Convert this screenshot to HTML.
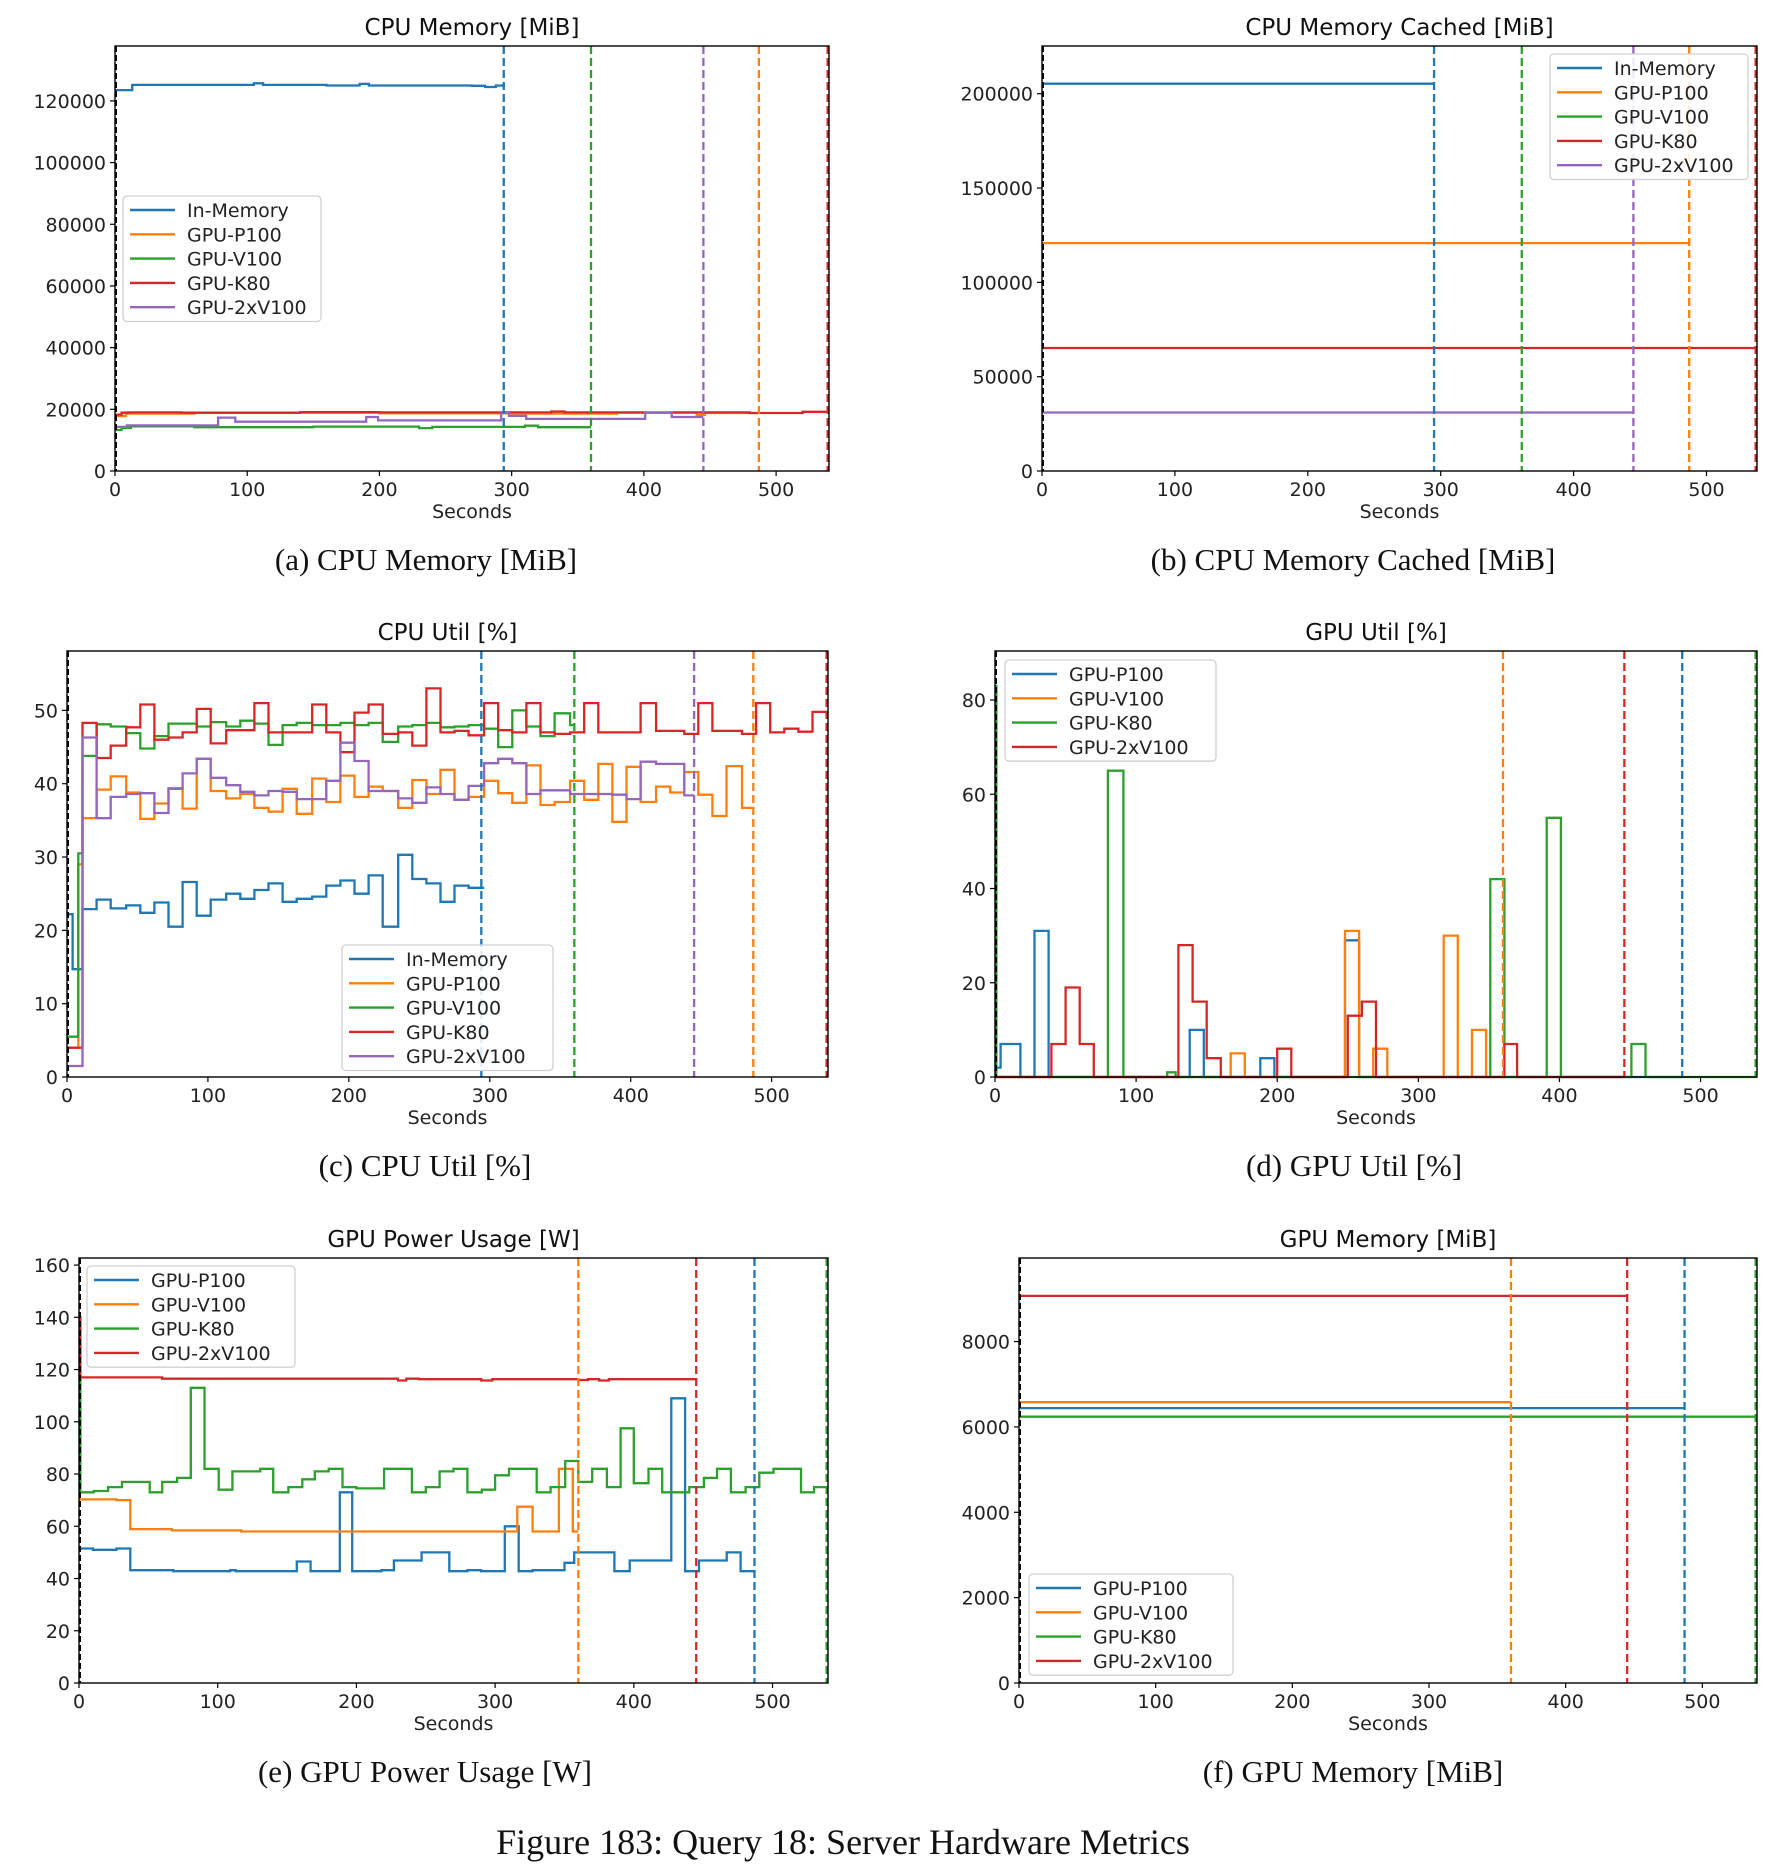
<!DOCTYPE html>
<html><head><meta charset="utf-8"><style>
html,body{margin:0;padding:0;background:#fff;}
svg text{font-family:"DejaVu Sans","Liberation Sans",sans-serif;}
.cap{font-family:"Liberation Serif",serif;}
</style></head><body>
<svg id="fig" xmlns="http://www.w3.org/2000/svg" width="1790" height="1866" viewBox="0 0 1790 1866">
<rect width="1790" height="1866" fill="#fff"/>
<text class="cap" x="843" y="1854" font-size="36" text-anchor="middle" fill="#111">Figure 183:  Query 18:  Server Hardware Metrics</text>
</svg>
<script>
// ===== (a) CPU Memory data =====
const aMemTimes = [0,13,105,112,160,185,192,270,280,288];
const aMemVals = [123500,125200,125700,125200,125000,125500,125000,124900,124500,125000];
const aP100Times = [0,8,60,200,300,380,440,446];
const aP100Vals = [17800,18600,18900,18700,18600,18900,18200,18800];
const aV100Times = [0,5,12,60,150,230,240,310,320];
const aV100Vals = [13300,14000,14500,14200,14400,13900,14300,14700,14200];
const aK80Times = [0,5,10,50,140,200,330,340,480,520];
const aK80Vals = [18300,18900,19000,18900,19100,19000,19300,19000,18800,19200];
const a2xTimes = [0,9,78,91,190,199,292,298,311,401,421];
const a2xVals = [14300,14800,17300,16000,17500,16400,19100,17900,16900,18900,17500];
const aYTicks = [0,20000,40000,60000,80000,100000,120000];
// ===== (b) CPU Memory Cached =====
const bMemVals = [205300];
const bP100Vals = [120800];
const bK80Vals = [65200];
const b2xVals = [31000];
const bYTicks = [0,50000,100000,150000,200000];
// ===== (c) CPU Util =====
const cTimes = [0,4,8,11,21,31,42,52,62,72,82,92,102,113,123,133,143,153,163,174,184,194,204,214,224,235,245,255,265,275,285,296,306,316,326,336,346,357,367,377,387,397,407,418,428,438,448,458,468,479,489,499,509,519,529,540];
const cMemVals = [22.2,14.7,14.7,22.9,24.2,23,23.4,22.4,23.8,20.5,26.6,22,24.2,25,24.3,25.5,26.4,23.9,24.3,24.6,26.1,26.8,25,27.5,20.5,30.3,27,26.4,23.9,26.1,25.8,25.8];
const cP100Vals = [4,4,29,35.3,39.2,41,38.8,35.2,37.3,39.4,36.6,43.4,39,38,38.6,36.7,36.2,39.3,35.9,40.7,37.5,41.1,38.2,39.6,39,36.7,40.5,38.6,41.9,37.8,38.2,40.4,38.7,37.4,42.5,37.1,37.5,40.4,37.8,42.7,34.8,42.3,37.5,39.6,38.8,41.6,38.5,35.6,42.4,36.7];
const cV100Vals = [5.5,5.5,30.5,43.8,48.1,47.8,46.9,44.8,46.5,48.2,48.2,47.8,48.4,47.8,48.6,48.2,45.3,48,48.3,48,48,48.3,48,48.3,45.7,47.8,48,48.3,47.7,47.8,48,47.5,45,50,47.8,46.5,49.6,48,48];
const cK80Vals = [4,4,4,48.3,43.5,45.2,47.7,50.8,46,46.3,47,50.2,45.5,47.3,47.3,51,47,47,47,50.8,47,44.3,49.7,50.8,46.8,47,45.2,53,47,47.2,46.6,51,47.3,47,51,47,46.8,47,51,47,47,47,51,47.2,47.2,46.8,51,47.2,47.2,46.8,51,47,47.5,47.1,49.8];
const c2xVals = [1.5,1.5,1.5,46.3,35.3,38.2,38.6,38.7,36,39.3,41.4,43.4,40.8,39.8,38.9,38.4,39,38.9,37.9,37.9,40.4,45.6,43.1,39,39,38,37.4,39.5,38.6,37.8,39.7,42.8,43.4,42.8,38.6,39.1,39.1,38.6,38.6,38.6,38.5,37.9,43,42.7,42.7,38.4,39.4];
const cYTicks = [0,10,20,30,40,50];
// ===== (d) GPU Util =====
const dP100Times = [0,4,18,28,38,138,148,188,198,248,258];
const dP100Vals = [2,7,0,31,0,10,0,4,0,29,0];
const dV100Times = [0,167,177,248,258,268,278,318,328,338,348];
const dV100Vals = [0,5,0,31,0,6,0,30,0,10,0];
const dK80Times = [0,1,80,91,122,128,351,361,391,401,451,461];
const dK80Vals = [83,0,65,0,1,0,42,0,55,0,7,0];
const d2xTimes = [0,40,50,60,70,130,140,150,160,200,210,250,260,270,361,370];
const d2xVals = [0,7,19,7,0,28,16,4,0,6,0,13,16,0,7,0];
const dYTicks = [0,20,40,60,80];
// ===== (e) GPU Power =====
const eP100Times = [0,10,27,37,68,109,113,157,167,188,197,218,227,247,267,280,290,307,317,327,350,357,386,397,427,437,447,467,477];
const eP100Vals = [51.5,51,51.5,43.2,42.8,43.2,42.8,46.5,42.8,73,42.8,43.2,46.9,50,42.8,43.2,42.8,60,42.8,43.2,46,50,42.8,46.9,109,42.8,46.9,50,42.8];
const eV100Times = [0,27,37,67,117,316,327,346,356];
const eV100Vals = [70.3,70,58.9,58.4,58,67.5,58,82,58];
const eK80Times = [0,1,10.6,21,31,51,60,70.7,80.6,90.5,100.7,110.6,130.7,140,151,161,170,180,190,200,220,240,250,260,270,280,290.5,300,310,330,340,350.5,360,370,380.6,390.5,400,410.6,420.5,440,450.5,460,470,480.6,490.5,500.7,520.5,530];
const eK80Vals = [117,73,73.5,75,77,73,77,78.5,113,82,74,81,82,73,75,78,81,82,75,74.5,82,73,75,81,82,73,74,79.5,82,73,75,85,77,82,75,97.5,76.5,82,73,75,78.5,82,73,75,80.5,82,73,75];
const e2xTimes = [0,1,60,230,236,245,290,298,360,367,375,382,390];
const e2xVals = [140,117,116.5,115.8,116.5,116.3,115.8,116.3,116,116.3,115.8,116.3,116.3];
const eYTicks = [0,20,40,60,80,100,120,140,160];
// ===== (f) GPU Memory =====
const fP100Vals = [6440];
const fV100Vals = [6580];
const fK80Vals = [6240];
const f2xVals = [9070];
const fYTicks = [0,2000,4000,6000,8000];
const xTicks = [0,100,200,300,400,500];

const C = {blue:'#1f77b4',orange:'#ff7f0e',green:'#2ca02c',red:'#d62728',purple:'#9467bd'};
const svg = document.getElementById('fig');
const NS = 'http://www.w3.org/2000/svg';
function mk(tag, attrs, parent){const e=document.createElementNS(NS,tag);for(const k in attrs)e.setAttribute(k,attrs[k]);(parent||svg).appendChild(e);return e;}

function chart(cfg){
  const g = mk('g',{});
  
  
  const {L,R,T,B,xmax,ymax} = cfg;
  const sx = v => L + (v/xmax)*(R-L);
  const sy = v => B - (v/ymax)*(B-T);
  cfg.series.forEach(s=>{
    const times = s.times || [0];
    let d = '';
    for(let i=0;i<s.values.length;i++){
      if(s.values[i]===undefined||times[i]===undefined) break;
      if(times[i] >= s.end) break;
      const t1 = Math.min(i+1<times.length && i+1<s.values.length ? times[i+1] : s.end, s.end);
      const y = sy(s.values[i]);
      d += (d===''?'M'+sx(times[i]).toFixed(1)+' '+y.toFixed(1):' V'+y.toFixed(1)) + ' H'+sx(t1).toFixed(1);
    }
    const p = mk('path',{d:d,fill:'none',stroke:s.color,'stroke-width':2.3,'stroke-linejoin':'miter'},g);
    
    
  });
  cfg.vlines.forEach(v=>{
    const x = sx(v.x);
    const l = mk('line',{x1:x,x2:x,y1:T,y2:B,stroke:v.color,'stroke-width':2.3,'stroke-dasharray':'8,4'},g);
    
    
  });
  const bl = mk('line',{x1:L+1,x2:L+1,y1:T,y2:B,stroke:'#000','stroke-width':2,'stroke-dasharray':'6,3'},g);
  
  
  const fr = mk('rect',{x:L,y:T,width:R-L,height:B-T,fill:'none',stroke:'#000','stroke-width':1.4},g);
  
  
  xTicks.forEach(t=>{
    const x = sx(t);
    mk('line',{x1:x,x2:x,y1:B,y2:B+5,stroke:'#000','stroke-width':1.2},g);
    const tx = mk('text',{x:x,y:B+25,'font-size':19,'text-anchor':'middle',fill:'#222'},g);
    tx.textContent = t;
    
    
  });
  cfg.yticks.forEach(t=>{
    const y = sy(t);
    mk('line',{x1:L-5,x2:L,y1:y,y2:y,stroke:'#000','stroke-width':1.2},g);
    const tx = mk('text',{x:L-9,y:y+7,'font-size':19,'text-anchor':'end',fill:'#222'},g);
    tx.textContent = t;
    
    
  });
  const xl = mk('text',{x:(L+R)/2,y:B+47,'font-size':19,'text-anchor':'middle',fill:'#222'},g);
  xl.textContent = 'Seconds';
  
  
  const ti = mk('text',{x:(L+R)/2,y:T-11,'font-size':23,'text-anchor':'middle',fill:'#111'},g);
  ti.textContent = cfg.title;
  
  
  const cp = mk('text',{x:cfg.capX,y:B+99,'font-size':31,'text-anchor':'middle',fill:'#111','class':'cap'},g);
  cp.textContent = cfg.caption;
  
  
  const lg = cfg.legend;
  const lgG = mk('g',{},g);
  
  
  mk('rect',{x:lg.x,y:lg.y,width:lg.w,height:cfg.series.length*24.3+4,rx:4,fill:'#fff','fill-opacity':0.85,stroke:'#d0d0d0','stroke-width':1.3},lgG);
  cfg.series.forEach((s,i)=>{
    const y = lg.y+14+i*24.3;
    mk('line',{x1:lg.x+7,x2:lg.x+52,y1:y,y2:y,stroke:s.color,'stroke-width':2.4},lgG);
    const t = mk('text',{x:lg.x+64,y:y+7,'font-size':19,fill:'#222'},lgG);
    t.textContent = s.label;
    
    
  });
}

chart({name:'chart-cpu-memory',L:115,R:829,T:46,B:471,xmax:540,ymax:137800,yticks:aYTicks,
  title:'CPU Memory [MiB]',caption:'(a) CPU Memory [MiB]',capX:426,
  vlines:[{x:294,color:C.blue},{x:360,color:C.green},{x:445,color:C.purple},{x:487,color:C.orange},{x:539,color:C.red}],
  series:[{label:'In-Memory',color:C.blue,times:aMemTimes,values:aMemVals,end:295},
    {label:'GPU-P100',color:C.orange,times:aP100Times,values:aP100Vals,end:487},
    {label:'GPU-V100',color:C.green,times:aV100Times,values:aV100Vals,end:360},
    {label:'GPU-K80',color:C.red,times:aK80Times,values:aK80Vals,end:540},
    {label:'GPU-2xV100',color:C.purple,times:a2xTimes,values:a2xVals,end:445}],
  legend:{x:123,y:196,w:198}});

chart({name:'chart-cpu-memory-cached',L:1042,R:1757,T:46,B:471,xmax:538,ymax:225300,yticks:bYTicks,
  title:'CPU Memory Cached [MiB]',caption:'(b) CPU Memory Cached [MiB]',capX:1353,
  vlines:[{x:295,color:C.blue},{x:361,color:C.green},{x:445,color:C.purple},{x:487,color:C.orange},{x:537,color:C.red}],
  series:[{label:'In-Memory',color:C.blue,values:bMemVals,end:295},
    {label:'GPU-P100',color:C.orange,values:bP100Vals,end:487},
    {label:'GPU-V100',color:C.green,values:[],end:361},
    {label:'GPU-K80',color:C.red,values:bK80Vals,end:538},
    {label:'GPU-2xV100',color:C.purple,values:b2xVals,end:445}],
  legend:{x:1550,y:54,w:198}});

chart({name:'chart-cpu-util',L:67,R:828,T:651,B:1077,xmax:540,ymax:58.1,yticks:cYTicks,
  title:'CPU Util [%]',caption:'(c) CPU Util [%]',capX:425,
  vlines:[{x:294,color:C.blue},{x:360,color:C.green},{x:445,color:C.purple},{x:487,color:C.orange},{x:539,color:C.red}],
  series:[{label:'In-Memory',color:C.blue,times:cTimes,values:cMemVals,end:296},
    {label:'GPU-P100',color:C.orange,times:cTimes,values:cP100Vals,end:487},
    {label:'GPU-V100',color:C.green,times:cTimes,values:cV100Vals,end:360},
    {label:'GPU-K80',color:C.red,times:cTimes,values:cK80Vals,end:540},
    {label:'GPU-2xV100',color:C.purple,times:cTimes,values:c2xVals,end:445}],
  legend:{x:342,y:945,w:211}});

chart({name:'chart-gpu-util',L:995,R:1757,T:651,B:1077,xmax:540,ymax:90.4,yticks:dYTicks,
  title:'GPU Util [%]',caption:'(d) GPU Util [%]',capX:1354,
  vlines:[{x:360,color:C.orange},{x:446,color:C.red},{x:487,color:C.blue},{x:539,color:C.green}],
  series:[{label:'GPU-P100',color:C.blue,times:dP100Times,values:dP100Vals,end:487},
    {label:'GPU-V100',color:C.orange,times:dV100Times,values:dV100Vals,end:360},
    {label:'GPU-K80',color:C.green,times:dK80Times,values:dK80Vals,end:540},
    {label:'GPU-2xV100',color:C.red,times:d2xTimes,values:d2xVals,end:446}],
  legend:{x:1005,y:660,w:211}});

chart({name:'chart-gpu-power',L:79,R:828,T:1258,B:1683,xmax:540,ymax:162.7,yticks:eYTicks,
  title:'GPU Power Usage [W]',caption:'(e) GPU Power Usage [W]',capX:425,
  vlines:[{x:360,color:C.orange},{x:445,color:C.red},{x:487,color:C.blue},{x:539,color:C.green}],
  series:[{label:'GPU-P100',color:C.blue,times:eP100Times,values:eP100Vals,end:487},
    {label:'GPU-V100',color:C.orange,times:eV100Times,values:eV100Vals,end:360},
    {label:'GPU-K80',color:C.green,times:eK80Times,values:eK80Vals,end:540},
    {label:'GPU-2xV100',color:C.red,times:e2xTimes,values:e2xVals,end:445}],
  legend:{x:87,y:1266,w:208}});

chart({name:'chart-gpu-memory',L:1019,R:1757,T:1258,B:1683,xmax:540,ymax:9958,yticks:fYTicks,
  title:'GPU Memory [MiB]',caption:'(f) GPU Memory [MiB]',capX:1353,
  vlines:[{x:360,color:C.orange},{x:445,color:C.red},{x:487,color:C.blue},{x:539,color:C.green}],
  series:[{label:'GPU-P100',color:C.blue,values:fP100Vals,end:487},
    {label:'GPU-V100',color:C.orange,values:fV100Vals,end:360},
    {label:'GPU-K80',color:C.green,values:fK80Vals,end:540},
    {label:'GPU-2xV100',color:C.red,values:f2xVals,end:445}],
  legend:{x:1029,y:1574,w:204}});
</script>
</body></html>
